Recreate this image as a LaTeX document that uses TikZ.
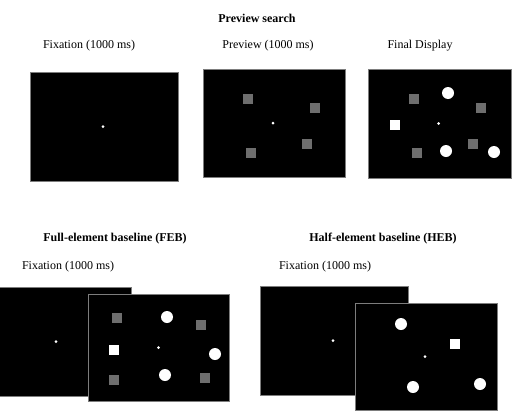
\documentclass[tikz,border=0pt]{standalone}
\usepackage{fontspec}
\setmainfont{Liberation Serif}
\usetikzlibrary{positioning}
\definecolor{ScreenEdge}{RGB}{125,125,125}
\definecolor{DistGray}{RGB}{110,110,110}
\tikzset{
  screen/.style={draw=ScreenEdge,fill=black,line width=0.8pt,inner sep=0pt,minimum width=142pt,minimum height=108pt},
  widescreen/.style={screen,minimum width=148pt,minimum height=109pt},
  fixdot/.style={circle,fill=white,inner sep=0pt,minimum size=3pt},
  distsq/.style={fill=DistGray,inner sep=0pt,minimum size=9.5pt},
  targsq/.style={fill=white,inner sep=0pt,minimum size=10pt},
  targci/.style={circle,fill=white,inner sep=0pt,minimum size=12pt},
  heading/.style={font=\fontsize{12}{14}\selectfont\bfseries},
  phase/.style={font=\fontsize{12}{14}\selectfont}
}

\begin{document}
\begin{tikzpicture}[x=1pt,y=-1pt]
\path[use as bounding box,clip] (0,0) rectangle (512,418);

% Preview search row.
\node[heading] (pstitle) at (257,18) {Preview search};
\node[phase] (psfixlbl) at (89,46) {Fixation (1000 ms)};
\node[phase] (psprevlbl) at (268,46) {Preview (1000 ms)};
\node[phase] (psfinlbl) at (420,46) {Final Display};

\node[widescreen] (psfix) at (104,126.5) {};
\node[fixdot] (psfixdot) at ([xshift=-1pt]psfix.center) {};

\node[screen] (psprev) at (274,123) {};
\node[fixdot] (psprevdot) at ([xshift=-1pt]psprev.center) {};
\node[distsq] (pv1) at (248,99) {};
\node[distsq] (pv2) at (315,108) {};
\node[distsq] (pv3) at (307,144) {};
\node[distsq] (pv4) at (251,153) {};

\node[screen,minimum width=143pt,minimum height=109pt] (psfin) at (439.5,123.5) {};
\node[fixdot] (psfindot) at ([xshift=-1pt]psfin.center) {};
\node[distsq] (pf1) at (414,99) {};
\node[distsq] (pf2) at (481,108) {};
\node[distsq] (pf3) at (473,144) {};
\node[distsq] (pf4) at (417,153) {};
\node[targci] (pf5) at (448,93) {};
\node[targci] (pf6) at (446,151) {};
\node[targci] (pf7) at (494,152) {};
\node[targsq] (pf8) at (395,125) {};

% Full-element baseline.
\node[heading] (febtitle) at (115,239) {Full-element baseline (FEB)};
\node[phase] (febfixlbl) at (68,267) {Fixation (1000 ms)};
\node[widescreen] (febfix) at (57,341.5) {};
\node[fixdot] (febfixdot) at ([xshift=-1pt]febfix.center) {};

\node[screen,minimum width=141pt,minimum height=107pt] (febfin) at (158.5,347.5) {};
\node[fixdot] (febfindot) at (febfin.center) {};
\node[distsq,minimum size=10pt] (fe1) at (117,318) {};
\node[distsq,minimum size=10pt] (fe2) at (201,325) {};
\node[distsq,minimum size=10pt] (fe3) at (114,380) {};
\node[distsq,minimum size=10pt] (fe4) at (205,378) {};
\node[targci] (fe5) at (167,317) {};
\node[targci] (fe6) at (215,354) {};
\node[targci] (fe7) at (165,375) {};
\node[targsq] (fe8) at (114,350) {};

% Half-element baseline.
\node[heading] (hebtitle) at (383,239) {Half-element baseline (HEB)};
\node[phase] (hebfixlbl) at (325,267) {Fixation (1000 ms)};
\node[widescreen] (hebfix) at (334,340.5) {};
\node[fixdot] (hebfixdot) at ([xshift=-1pt]hebfix.center) {};

\node[screen,minimum height=107pt] (hebfin) at (426,356.5) {};
\node[fixdot] (hebfindot) at ([xshift=-1pt]hebfin.center) {};
\node[targci] (he1) at (401,324) {};
\node[targci] (he2) at (413,387) {};
\node[targci] (he3) at (480,384) {};
\node[targsq] (he4) at (455,344) {};
\end{tikzpicture}
\end{document}
